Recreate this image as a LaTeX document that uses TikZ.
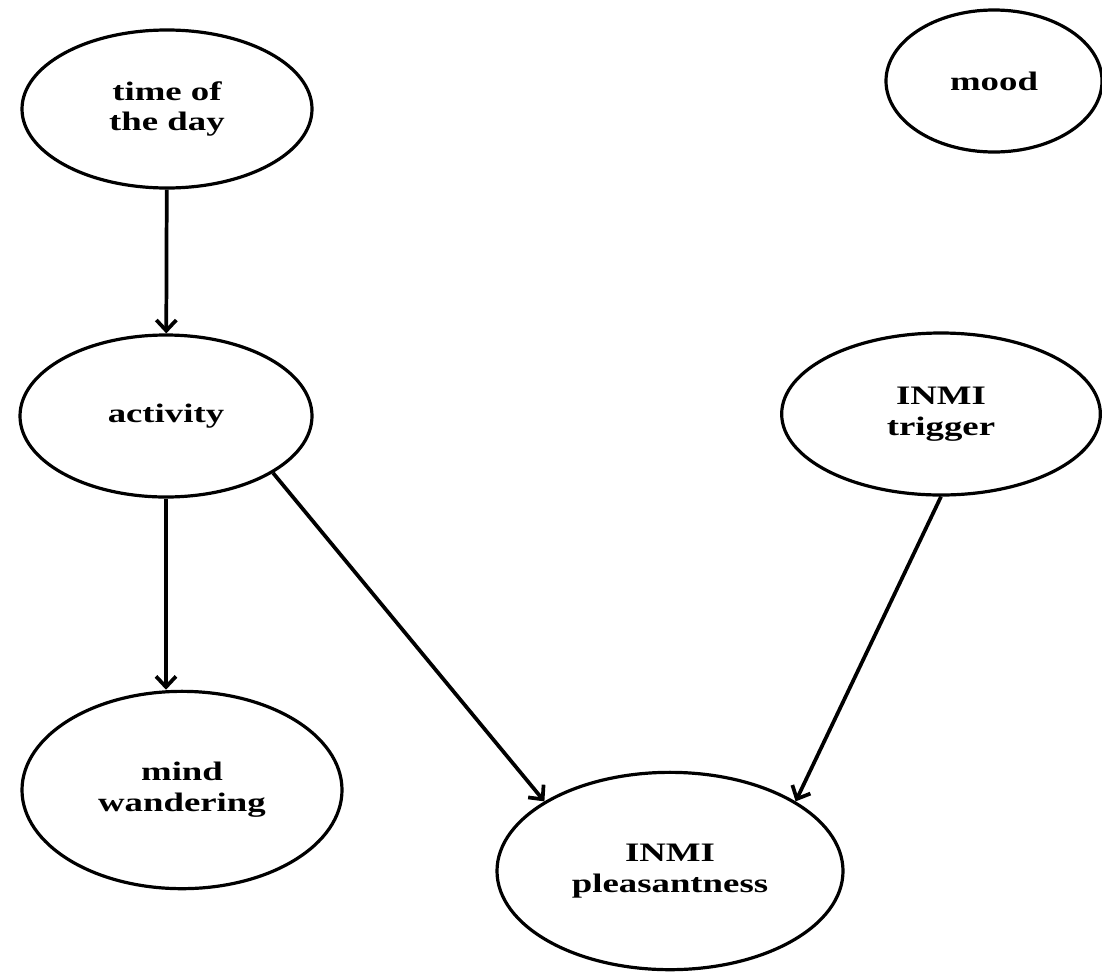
\documentclass[tikz,border=0pt]{standalone}
\usepackage{fontspec}
\newfontfamily\factorfont[FakeStretch=1.38]{Liberation Serif}
\usepackage{tikz}
\usetikzlibrary{arrows.meta}
\usetikzlibrary{shapes.geometric,positioning}
\tikzset{
	>={Straight Barb[length=8pt,width=15pt]},
	factor/.style = {
			ellipse,
			draw            = black,
			line width      = 2.4pt,
			inner sep       = 0pt,
			align           = center,
			font            = \factorfont\bfseries\fontsize{20}{23}\selectfont,
		},
	link/.style = {->, line width=2.8pt},
}

\begin{document}
\begin{tikzpicture}[x=0.75pt,y=-0.75pt]
	% Bounding box of the whole picture
	\useasboundingbox (0,0) rectangle (1102,971);

	% Factors
	\node[factor, minimum width=217.5pt, minimum height=118.5pt] (time) at (167,109) {time of\\the day};
	\node[factor, minimum width=162pt, minimum height=106.5pt] (mood) at (994,81) {mood};
	\node[factor, minimum width=219pt, minimum height=121.5pt] (activity) at (166,416) {activity};
	\node[factor, minimum width=239pt, minimum height=121.5pt] (trigger) at (941,414) {INMI\\trigger};
	\node[factor, minimum width=240pt, minimum height=148pt] (mind) at (182,790) {mind\\wandering};
	\node[factor, minimum width=259.5pt, minimum height=148pt] (pleasant) at (670,871) {INMI\\pleasantness};

	% Dependencies
	\draw[link] (time) -- (activity);
	\draw[link] (activity.south) -- (activity.south |- mind.north);
	\draw[link] (activity.-28.3) -- (pleasant.151.8);
	\draw[link] (trigger.south) -- (pleasant.29);
\end{tikzpicture}
\end{document}
